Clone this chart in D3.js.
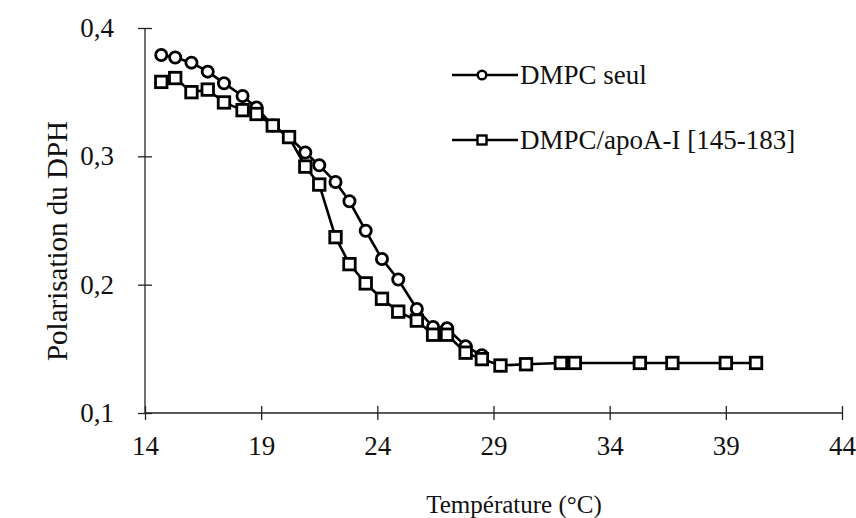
<!DOCTYPE html>
<html>
<head>
<meta charset="utf-8">
<script src="https://cdn.jsdelivr.net/npm/d3@7"></script>
<style>
  html, body { margin: 0; padding: 0; background: #fff; }
  svg { display: block; }
  text { font-family: "Liberation Serif", "Times New Roman", serif; fill: #111; }
</style>
</head>
<body>
<svg id="chart" width="856" height="518"></svg>
<script>
// Temperatures (°C) of each measurement
const temperatures = [14.7, 15.3, 16.0, 16.7, 17.4, 18.2, 18.8, 19.5, 20.2, 20.9,
                      21.5, 22.2, 22.8, 23.5, 24.2, 24.9, 25.7, 26.4, 27.0, 27.8,
                      28.5, 29.3, 30.4, 31.9, 32.5, 35.3, 36.7, 39.0, 40.3];

// DPH polarisation, DMPC alone (first 21 temperatures)
const polarDmpc = [0.379, 0.377, 0.373, 0.366, 0.357, 0.347, 0.338, 0.324, 0.315, 0.303,
                   0.293, 0.280, 0.265, 0.242, 0.220, 0.204, 0.181, 0.167, 0.166, 0.152,
                   0.145];

// DPH polarisation, DMPC with apoA-I [145-183] peptide
const polarApo = [0.358, 0.361, 0.350, 0.352, 0.342, 0.336, 0.333, 0.324, 0.315, 0.292,
                  0.278, 0.237, 0.216, 0.201, 0.189, 0.179, 0.172, 0.161, 0.161, 0.147,
                  0.142, 0.137, 0.138, 0.139, 0.139, 0.139, 0.139, 0.139, 0.139];

const seriesNames = ["DMPC seul", "DMPC/apoA-I [145-183]"];
const xTicks = [14, 19, 24, 29, 34, 39, 44];
const yTicks = [0.1, 0.2, 0.3, 0.4];

const svg = d3.select("#chart");
const fontSize = 27;

const x = d3.scaleLinear().domain([14, 44]).range([145, 842]);
const y = d3.scaleLinear().domain([0.1, 0.4]).range([413, 28]);

const fr = d3.formatLocale({ decimal: ",", thousands: " ", grouping: [3], currency: ["", " €"] });
const fmt = fr.format(".1f");

// Axes: ticks cross the axis line on both sides
const xAxis = svg.append("g")
  .attr("transform", `translate(0,${y(0.1)})`)
  .call(d3.axisBottom(x).tickValues(xTicks).tickSizeOuter(0).tickSize(7).tickPadding(16).tickFormat(d3.format("d")));
xAxis.selectAll(".tick line").attr("y1", -7);
xAxis.select(".domain").attr("d", `M${x(14)},0H${x(44)}`);

const yAxis = svg.append("g")
  .attr("transform", `translate(${x(14)},0)`)
  .call(d3.axisLeft(y).tickValues(yTicks).tickSizeOuter(0).tickSize(7).tickPadding(24).tickFormat(fmt));
yAxis.selectAll(".tick line").attr("x1", 7);
yAxis.select(".domain").attr("d", `M0,${y(0.4)}V${y(0.1)}`);

svg.selectAll(".domain, .tick line").attr("stroke", "#222").attr("stroke-width", 1.3);
svg.selectAll(".tick text").attr("font-size", fontSize).attr("font-family", "Liberation Serif").attr("fill", "#111");

// Axis titles
svg.append("text")
  .attr("x", 514).attr("y", 513)
  .attr("text-anchor", "middle").attr("font-size", 25)
  .text("Température (°C)");

svg.append("text")
  .attr("transform", `translate(67,241) rotate(-90)`)
  .attr("text-anchor", "middle").attr("font-size", 29)
  .text("Polarisation du DPH");

// Series
const dataDmpc = polarDmpc.map((v, i) => [temperatures[i], v]);
const dataApo = polarApo.map((v, i) => [temperatures[i], v]);

const line = d3.line().x(d => x(d[0])).y(d => y(d[1]));

const plot = svg.append("g");

plot.append("path").datum(dataDmpc)
  .attr("d", line).attr("fill", "none").attr("stroke", "#000").attr("stroke-width", 2.6);
plot.selectAll("circle.pt").data(dataDmpc).join("circle")
  .attr("class", "pt")
  .attr("cx", d => x(d[0])).attr("cy", d => y(d[1])).attr("r", 5.6)
  .attr("fill", "#fff").attr("stroke", "#000").attr("stroke-width", 2.8);

plot.append("path").datum(dataApo)
  .attr("d", line).attr("fill", "none").attr("stroke", "#000").attr("stroke-width", 2.6);
const sq = 11.5;
plot.selectAll("rect.pt").data(dataApo).join("rect")
  .attr("class", "pt")
  .attr("x", d => x(d[0]) - sq / 2).attr("y", d => y(d[1]) - sq / 2)
  .attr("width", sq).attr("height", sq)
  .attr("fill", "#fff").attr("stroke", "#000").attr("stroke-width", 2.8);

// Legend
const legend = svg.append("g");
const legendRows = [75, 140];
seriesNames.forEach((name, i) => {
  const ly = legendRows[i];
  legend.append("line").attr("x1", 452).attr("x2", 518).attr("y1", ly).attr("y2", ly)
    .attr("stroke", "#000").attr("stroke-width", 2.6);
  if (i === 0) {
    legend.append("circle").attr("cx", 482).attr("cy", ly).attr("r", 4.3)
      .attr("fill", "#fff").attr("stroke", "#000").attr("stroke-width", 2.4);
  } else {
    legend.append("rect").attr("x", 482 - 4.5).attr("y", ly - 4.5).attr("width", 9).attr("height", 9)
      .attr("fill", "#fff").attr("stroke", "#000").attr("stroke-width", 2.4);
  }
  legend.append("text").attr("x", 520).attr("y", ly + 9)
    .attr("font-size", fontSize).text(name);
});
</script>
</body>
</html>
